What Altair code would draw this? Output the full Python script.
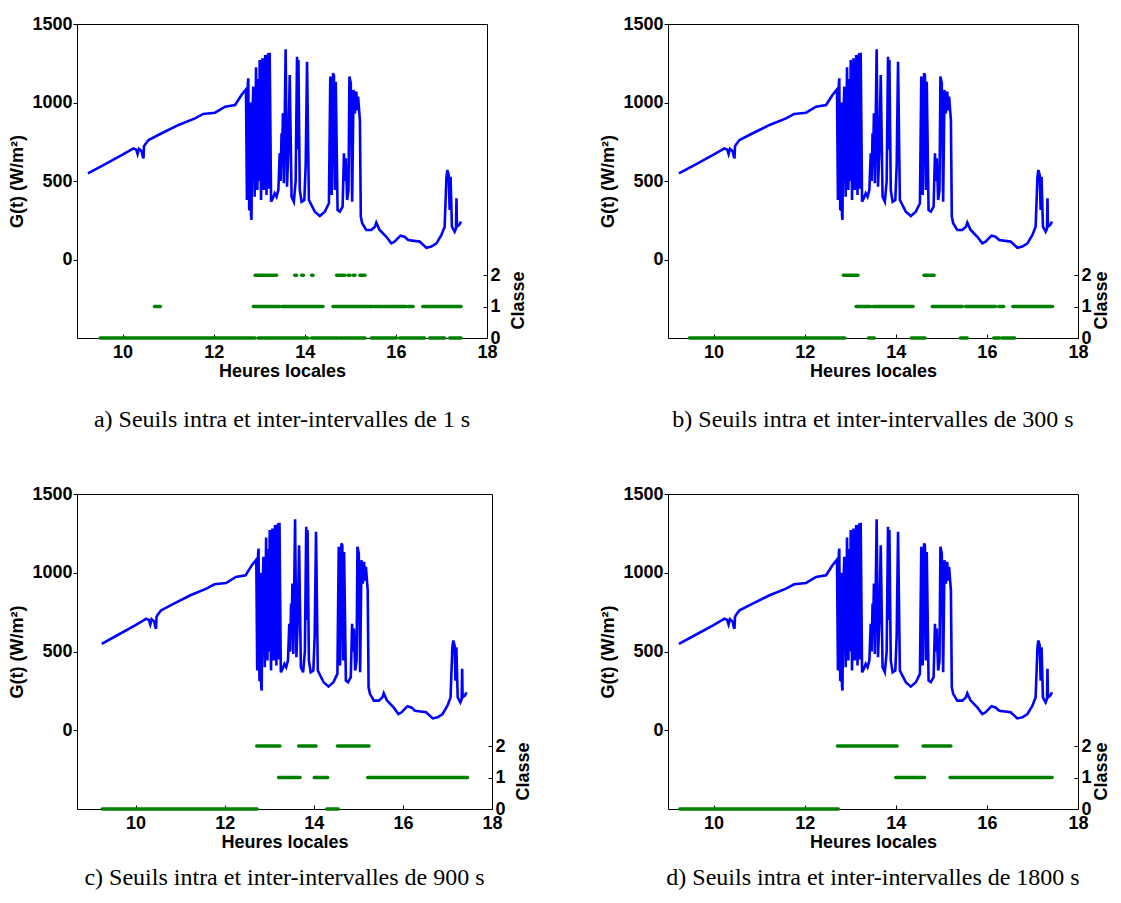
import altair as alt
import pandas as pd

# ---- irradiance series (hours, W/m2) ----
time_h = [9.24, 9.62, 9.99, 10.24, 10.30, 10.33, 10.36, 10.42, 10.44, 10.46, 10.47, 10.50, 10.57,
          10.86, 11.23, 11.59, 11.77, 12.03, 12.25, 12.47, 12.61, 12.70, 12.71, 12.73, 12.75, 12.76,
          12.78, 12.80, 12.81, 12.82, 12.83, 12.85, 12.87, 12.90, 12.93, 12.96, 12.98, 13.00, 13.01,
          13.04, 13.07, 13.10, 13.13, 13.16, 13.18, 13.20, 13.21, 13.23, 13.26, 13.30, 13.34, 13.38,
          13.42, 13.45, 13.47, 13.49, 13.50, 13.52, 13.54, 13.56, 13.58, 13.61, 13.64, 13.67, 13.71,
          13.76, 13.80, 13.83, 13.85, 13.86, 13.89, 13.93, 13.99, 14.02, 14.05, 14.09, 14.22, 14.33,
          14.44, 14.53, 14.56, 14.59, 14.62, 14.64, 14.66, 14.68, 14.72, 14.77, 14.83, 14.86, 14.88,
          14.90, 14.93, 14.96, 14.98, 15.01, 15.04, 15.07, 15.10, 15.13, 15.15, 15.17, 15.21, 15.23,
          15.26, 15.35, 15.46, 15.54, 15.57, 15.64, 15.79, 15.90, 15.97, 16.10, 16.19, 16.27, 16.52,
          16.67, 16.78, 16.89, 17.00, 17.07, 17.11, 17.13, 17.16, 17.18, 17.20, 17.23, 17.29, 17.32,
          17.33, 17.34, 17.39, 17.43]
irradiance = [549, 608, 666, 708, 700, 672, 705, 690, 660, 644, 720, 735, 761,
              804, 857, 899, 927, 935, 973, 984, 1048, 1080, 1060, 379, 1120, 1154,
              320, 315, 1000, 280, 252, 900, 1101, 400, 1224, 443, 1150, 500, 1271,
              379, 1281, 443, 1303, 411, 1290, 1313, 450, 1317, 368, 390, 421, 400,
              443, 676, 500, 804, 600, 931, 485, 900, 1339, 464, 700, 1175, 400,
              368, 500, 1292, 700, 1271, 443, 368, 379, 600, 1260, 379, 305, 277,
              305, 358, 1165, 411, 1186, 1175, 443, 1132, 315, 305, 337, 676, 500,
              645, 379, 443, 1165, 1122, 368, 1080, 931, 1069, 950, 1037, 888, 273,
              231, 188, 188, 209, 235, 190, 145, 103, 114, 152, 145, 124, 114,
              75, 82, 103, 156, 209, 527, 570, 538, 315, 527, 209, 177, 198,
              390, 209, 220, 241]

# ---- class segments (start hour, end hour, class) per panel ----
a_start = [12.91, 13.23, 13.34, 13.78, 13.93, 14.15, 14.70, 14.95, 15.06, 15.21,
           10.70, 12.87, 13.49, 14.62, 15.53, 15.75, 16.27, 16.59,
           9.51, 12.98, 13.45, 13.89, 14.15, 14.40, 14.77, 15.46, 15.75, 16.08, 16.74, 17.18]
a_end = [13.20, 13.31, 13.38, 13.82, 13.97, 14.18, 14.88, 14.99, 15.10, 15.32,
         10.83, 13.45, 14.40, 15.50, 15.72, 16.23, 16.38, 17.43,
         12.91, 13.42, 13.86, 14.07, 14.37, 14.73, 15.32, 15.72, 16.01, 16.63, 17.07, 17.43]
a_class = [2] * 10 + [1] * 8 + [0] * 12

b_start = [12.85, 14.62, 13.13, 13.50, 14.80, 15.53, 16.26, 16.57,
           9.47, 13.40, 14.34, 15.42, 16.15, 16.33]
b_end = [13.17, 14.84, 13.45, 14.38, 15.46, 16.19, 16.37, 17.44,
         12.88, 13.53, 14.64, 15.57, 16.28, 16.61]
b_class = [2] * 2 + [1] * 6 + [0] * 6

c_start = [12.72, 13.66, 14.53, 13.21, 14.01, 15.21, 9.25, 14.29]
c_end = [13.24, 14.05, 15.24, 13.69, 14.31, 17.45, 12.73, 14.55]
c_class = [2, 2, 2, 1, 1, 1, 0, 0]

d_start = [12.72, 14.60, 14.00, 15.19, 9.26]
d_end = [14.03, 15.21, 14.63, 17.43, 12.74]
d_class = [2, 2, 1, 1, 0]

captions = [
    "a) Seuils intra et inter-intervalles de 1 s",
    "b) Seuils intra et inter-intervalles de 300 s",
    "c) Seuils intra et inter-intervalles de 900 s",
    "d) Seuils intra et inter-intervalles de 1800 s",
]

x_ticks = [10, 12, 14, 16, 18]
g_ticks = [0, 500, 1000, 1500]
class_ticks = [0, 1, 2]

SANS = "Liberation Sans"
SERIF = "Liberation Serif"

series_df = pd.DataFrame({"t": time_h, "G": irradiance})


def panel(start, end, cls, caption, W, H, x_lo, cap_offset, classe_x):
    seg_df = pd.DataFrame({"s": start, "e": end, "c": cls})
    xscale = alt.Scale(domain=[x_lo, 18], nice=False, zero=False)
    gscale = alt.Scale(domain=[-500, 1500], nice=False, zero=False)
    xaxis = alt.Axis(values=x_ticks, title="Heures locales", domain=False,
                     offset=-4, tickSize=4, labelPadding=5, titlePadding=1,
                     labelFlush=False, grid=False, format="d")
    line = alt.Chart(series_df).mark_line(color="#0000FF", strokeWidth=2.6).encode(
        x=alt.X("t:Q", scale=xscale, axis=xaxis),
        y=alt.Y("G:Q", scale=gscale,
                axis=alt.Axis(values=g_ticks, title="G(t) (W/m²)", orient="left",
                              domain=False, tickSize=4, labelPadding=1, format="d",
                              titlePadding=5, grid=False)),
    )
    segs = alt.Chart(seg_df).mark_rule(color="#008000", strokeWidth=3.5, strokeCap="round").encode(
        x=alt.X("s:Q", scale=xscale, axis=xaxis),
        x2="e:Q",
        y=alt.Y("c:Q", scale=alt.Scale(domain=[0, 10], nice=False, zero=False),
                axis=alt.Axis(values=class_ticks, title="Classe", orient="right",
                              domain=False, offset=-4, tickSize=4, labelPadding=3,
                              format="d", titleAngle=270, titleBaseline="alphabetic",
                              titleAlign="center", titleX=classe_x, titleY=H - 38,
                              grid=False)),
    )
    return alt.layer(line, segs).resolve_scale(y="independent").properties(
        width=W, height=H,
        title=alt.TitleParams(text=caption, orient="bottom", font=SERIF, fontSize=24,
                              fontWeight="normal", color="black", offset=cap_offset,
                              anchor="middle"),
    )


pa = panel(a_start, a_end, a_class, captions[0], 410, 314, 9, 28, 40)
pb = panel(b_start, b_end, b_class, captions[1], 410, 314, 9, 28, 32)
pc = panel(c_start, c_end, c_class, captions[2], 415, 315, 8.685, 15, 40)
pd_ = panel(d_start, d_end, d_class, captions[3], 410, 315, 9, 15, 32)

chart = alt.vconcat(
    alt.hconcat(pa, pb, spacing=71),
    alt.hconcat(pc, pd_, spacing=66),
    spacing=51,
).properties(
    padding={"left": 0, "top": 6, "right": 0, "bottom": 0}
).configure_view(
    stroke="black", strokeWidth=1
).configure_axis(
    labelFont=SANS, labelFontSize=18, labelFontWeight="bold", labelColor="black",
    titleFont=SANS, titleFontSize=18, titleFontWeight="bold", titleColor="black",
    tickColor="black", tickWidth=1,
)

chart.save("out.html", embed_options={"renderer": "svg", "actions": False})
